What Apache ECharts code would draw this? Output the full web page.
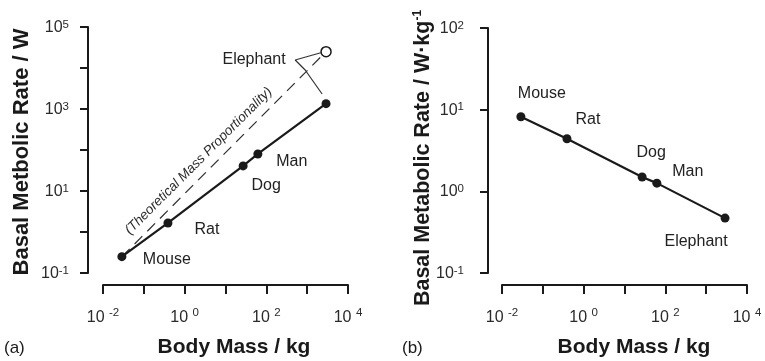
<!DOCTYPE html>
<html>
<head>
<meta charset="utf-8">
<script src="https://cdn.jsdelivr.net/npm/echarts@6/dist/echarts.min.js"></script>
<style>
  html, body { margin: 0; padding: 0; background: #fff; }
  #chart { width: 765px; height: 361px; }
</style>
</head>
<body>
<div id="chart"></div>
<script>
// animals, body mass (kg) and basal metabolic rate
const animals = ['Mouse', 'Rat', 'Dog', 'Man', 'Elephant']
const bodyMass = [0.029, 0.39, 27, 62, 2900]
const metabolicRate = [0.25, 1.66, 41, 80, 1350]          // W
const specificRate = [8.2, 4.4, 1.5, 1.26, 0.47]           // W/kg
const theoreticalElephant = 25000                          // W, mass-proportional
// annotation anchors (data space)
const theoryTextAt = [2.2, 54]
const leaderLine = [[2150, 23500], [509, 15660], [893, 8930], [2323, 2323]]
// labelled decades
const xLabelExp = [-2, 0, 2, 4]
const yLabelExpA = [-1, 1, 3, 5]
const yLabelExpB = [-1, 0, 1, 2]

const FONT = 'Liberation Sans, Arial, sans-serif'
const INK = '#1a1a1a'

// label offsets for each animal, in px
const offsetsA = [[45, 3], [39, 7], [23, 20], [34, 8], [-72, 8]]
const offsetsB = [[21, -23], [21, -19], [9, -24], [31, -12], [-29, 23]]

const supFmt = (exps, gap) => (v) => {
  const e = Math.round(Math.log10(v))
  return exps.includes(e) ? '{b|10' + gap + '}{s|' + e + '}' : ''
}
const richSup = (lh) => ({
  b: { fontSize: 16, lineHeight: lh, verticalAlign: 'bottom', color: '#2a2a2a', fontFamily: FONT },
  s: { fontSize: 11.5, lineHeight: 11, verticalAlign: 'top', color: '#2a2a2a', fontFamily: FONT },
})

function xAxisCfg(idx) {
  return {
    type: 'log', logBase: 10, gridIndex: idx,
    min: 0.01, max: 10000, splitNumber: 6,
    offset: 12,
    axisLine: { lineStyle: { color: INK, width: 2 } },
    axisTick: { length: 9, lineStyle: { color: INK, width: 2 } },
    axisLabel: { margin: 22, formatter: supFmt(xLabelExp, ' '), rich: richSup(19) },
    splitLine: { show: false },
    minorTick: { show: false },
  }
}
function yAxisCfg(idx, min, max, split, exps, off, margin) {
  return {
    type: 'log', logBase: 10, gridIndex: idx,
    min: min, max: max, splitNumber: split,
    offset: off,
    axisLine: { show: true, lineStyle: { color: INK, width: 2 } },
    axisTick: { show: true, length: 8, lineStyle: { color: INK, width: 2 } },
    axisLabel: { margin: margin, formatter: supFmt(exps, ''), rich: richSup(17) },
    splitLine: { show: false },
  }
}

const labelStyle = { show: true, position: 'inside', color: '#222', fontSize: 16, fontFamily: FONT }
const pts = (ys, offs) => bodyMass.map((m, i) => ({
  value: [m, ys[i]],
  label: Object.assign({}, labelStyle, { formatter: animals[i], offset: offs[i] }),
}))

const chart = echarts.init(document.getElementById('chart'))
const option = {
  animation: false,
  backgroundColor: '#fff',
  grid: [
    { left: 103, top: 27, width: 245, height: 246 },
    { left: 502, top: 28, width: 245, height: 245 },
  ],
  xAxis: [xAxisCfg(0), xAxisCfg(1)],
  yAxis: [
    yAxisCfg(0, 0.1, 100000, 6, yLabelExpA, 15, 19),
    yAxisCfg(1, 0.1, 100, 3, yLabelExpB, 14, 24),
  ],
  series: [
    {
      type: 'line', xAxisIndex: 0, yAxisIndex: 0, symbol: 'none', z: 1,
      lineStyle: { color: '#333', width: 1.3, type: [11, 7] },
      data: [[bodyMass[0], metabolicRate[0]], [bodyMass[4], theoreticalElephant]],
    },
    {
      type: 'line', xAxisIndex: 0, yAxisIndex: 0, symbol: 'none', z: 1,
      lineStyle: { color: '#333', width: 1.2 },
      data: leaderLine,
    },
    {
      type: 'scatter', xAxisIndex: 0, yAxisIndex: 0, symbolSize: 0,
      itemStyle: { opacity: 1 },
      data: [theoryTextAt],
      label: { show: true, position: 'inside', rotate: 45, formatter: '(Theoretical Mass Proportionality)',
        color: '#2a2a2a', fontSize: 13.5, fontStyle: 'italic', fontFamily: FONT },
    },
    {
      type: 'scatter', xAxisIndex: 0, yAxisIndex: 0, symbol: 'circle', symbolSize: 10, z: 5,
      itemStyle: { color: '#fff', borderColor: INK, borderWidth: 1.5, opacity: 1 },
      data: [{ value: [bodyMass[4], theoreticalElephant],
        label: Object.assign({}, labelStyle, { formatter: 'Elephant', offset: [-72, 8] }) }],
    },
    {
      type: 'line', xAxisIndex: 0, yAxisIndex: 0, symbol: 'circle', symbolSize: 9, z: 4,
      lineStyle: { color: INK, width: 2.2 }, itemStyle: { color: INK },
      data: pts(metabolicRate, offsetsA).map((d, i) => i === 4 ? { value: d.value } : d),
    },
    {
      type: 'line', xAxisIndex: 1, yAxisIndex: 1, symbol: 'circle', symbolSize: 9, z: 4,
      lineStyle: { color: INK, width: 2.2 }, itemStyle: { color: INK },
      data: pts(specificRate, offsetsB),
    },
  ],
  graphic: [
    { type: 'text', x: 22, y: 152, rotation: Math.PI / 2,
      style: { text: 'Basal Metbolic Rate / W', font: 'bold 22px ' + FONT, fill: INK, align: 'center', verticalAlign: 'middle' } },
    { type: 'text', x: 423, y: 158, rotation: Math.PI / 2,
      style: { text: '{t|Basal Metabolic Rate / W·kg}{s|-1}', align: 'center', verticalAlign: 'middle',
        rich: {
          t: { font: 'bold 21.5px ' + FONT, fill: INK, lineHeight: 22, verticalAlign: 'bottom' },
          s: { font: 'bold 12px ' + FONT, fill: INK, lineHeight: 12, verticalAlign: 'top' },
        } } },
    { type: 'text', x: 234, y: 347,
      style: { text: 'Body Mass / kg', font: 'bold 21px ' + FONT, fill: INK, align: 'center', verticalAlign: 'middle' } },
    { type: 'text', x: 634, y: 347,
      style: { text: 'Body Mass / kg', font: 'bold 21px ' + FONT, fill: INK, align: 'center', verticalAlign: 'middle' } },
    { type: 'text', x: 4, y: 348,
      style: { text: '(a)', font: '17px ' + FONT, fill: INK, align: 'left', verticalAlign: 'middle' } },
    { type: 'text', x: 402, y: 348,
      style: { text: '(b)', font: '17px ' + FONT, fill: INK, align: 'left', verticalAlign: 'middle' } },
  ],
}
chart.setOption(option)
</script>
</body>
</html>
